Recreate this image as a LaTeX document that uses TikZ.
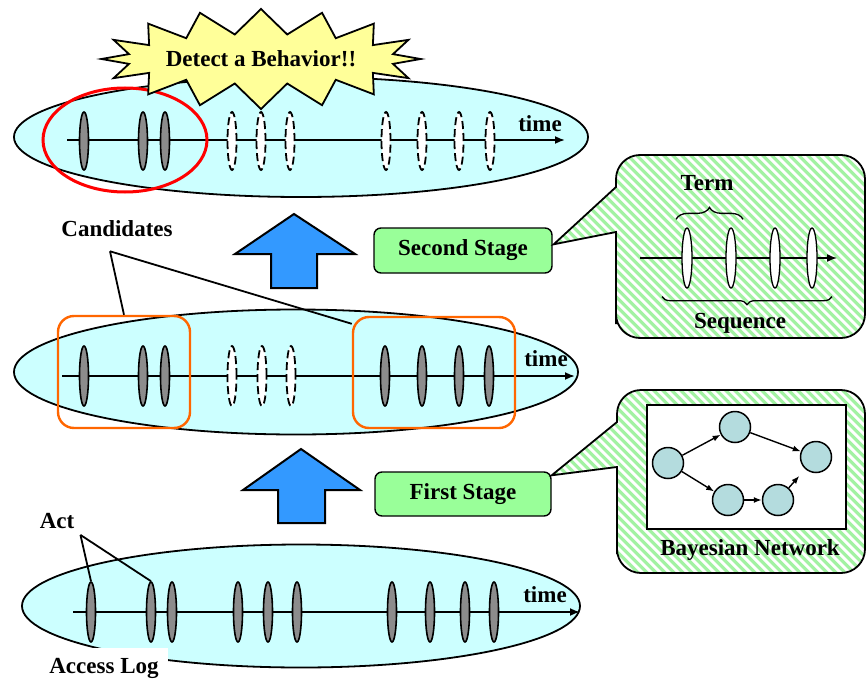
\documentclass[tikz,border=0pt]{standalone}
\usepackage{fontspec}
\setmainfont{Liberation Serif}
\usetikzlibrary{positioning, arrows.meta, shapes.geometric, shapes.symbols, decorations.pathreplacing}
\definecolor{logCyan}{HTML}{CCFFFF}
\definecolor{actGray}{HTML}{8C8C8C}
\definecolor{burstYellow}{HTML}{FFFF99}
\definecolor{hitRed}{HTML}{FF0000}
\definecolor{candOrange}{HTML}{FF6600}
\definecolor{upBlue}{HTML}{3399FF}
\definecolor{stageGreen}{HTML}{99FF99}
\definecolor{stripeGreen}{HTML}{A2F2A2}
\definecolor{bnTeal}{HTML}{B4DCDE}
\tikzset{
  lbl/.style={font=\fontsize{23}{27}\selectfont\bfseries, inner sep=2pt},
  logell/.style={ellipse, draw, line width=1.8pt, fill=logCyan, inner sep=0pt},
  act/.style={ellipse, draw, line width=1.6pt, fill=actGray, minimum width=9pt, minimum height=60pt, inner sep=0pt},
  ghost/.style={act, fill=white, line width=1.8pt, dash pattern=on 8pt off 4pt},
  termell/.style={act, fill=white, line width=1.3pt, minimum width=10pt},
  timeaxis/.style={line width=1.8pt, -{Latex[length=10pt, width=8pt]}},
  candbox/.style={draw=candOrange, line width=2.4pt, rounded corners=16pt, inner sep=0pt},
  pointer/.style={line width=1.8pt},
  uparrow/.style={draw, line width=2pt, fill=upBlue},
  stagebox/.style={lbl, draw, line width=1.4pt, fill=stageGreen, rounded corners=7pt, minimum height=45pt},
  balloon/.style={draw, line width=1.8pt, fill=white, path picture={
    \foreach \k in {-370,-361,...,200}
      \draw[stripeGreen, line width=3.2pt] ([xshift=\k pt]path picture bounding box.north) -- ++(300,300);}},
  bnode/.style={circle, draw, line width=1.5pt, fill=bnTeal, minimum size=31pt, inner sep=0pt},
  bnarrow/.style={line width=1.4pt, -{Latex[length=8pt, width=6pt]}}
}
\begin{document}
\begin{tikzpicture}[x=1pt, y=-1pt]
  \fill[white] (0,0) rectangle (866,682);
  \useasboundingbox (0,0) rectangle (866,682);

  % access log
  \node[logell, minimum width=558pt, minimum height=123pt] (accesslog) at (301,606) {};
  \draw[timeaxis] (73,612) -- (580,612);
  \node[lbl] at (545,595) {time};
  \foreach \x [count=\i] in {91,151,172,238,268,297,392,430,465,494}
    \node[act] (b\i) at (\x,612) {};
  \node[lbl, fill=white, minimum width=128pt, minimum height=40pt, anchor=north] (logname) at (104,648) {Access Log};
  \node[lbl] (act) at (57,521) {Act};
  \coordinate (actfork) at ([shift={(4,4)}]act.south east);
  \draw[pointer] (actfork) -- (b1.north);
  \draw[pointer] (actfork) -- (b2.north);

  % first stage result
  \node[logell, minimum width=564pt, minimum height=125pt] (stageone) at (296,372) {};
  \draw[timeaxis] (62,376) -- (575,376);
  \node[lbl] at (546,359) {time};
  \foreach \x [count=\i] in {84,143,165,385,422,459,489}
    \node[act] (m\i) at (\x,376) {};
  \foreach \x in {232,262,291}
    \node[ghost] at (\x,376) {};
  \node[candbox, minimum width=132pt, minimum height=112pt] (candL) at (124,372) {};
  \node[candbox, minimum width=162pt, minimum height=111pt] (candR) at (434,372.5) {};
  \node[lbl] (cand) at (117,229) {Candidates};
  \coordinate (candfork) at ([shift={(-7,12)}]cand.south);
  \draw[pointer] (candfork) -- (candL.north);
  \draw[pointer] (candfork) -- ([shift={(0,8)}]candR.north west);

  % second stage result
  \node[logell, minimum width=574pt, minimum height=120pt] (stagetwo) at (301,137) {};
  \draw[timeaxis] (67,140) -- (565,140);
  \node[lbl] at (540,124) {time};
  \foreach \x in {84,143,165}
    \node[act, minimum height=58pt] at (\x,141) {};
  \foreach \x in {232,261,290,386,422,459,490}
    \node[ghost, minimum height=58pt] at (\x,141) {};
  \node[ellipse, draw=hitRed, line width=3pt, minimum width=164pt, minimum height=104pt] (hit) at (125,140) {};
  \node[lbl, starburst, draw, line width=1.8pt, fill=burstYellow, minimum width=298pt, minimum height=100pt,
        starburst points=16, starburst point height=25pt, random starburst=0, inner sep=0pt] (detect) at (261,59) {Detect a Behavior!!};

  % stages
  \draw[uparrow] (294,214) -- (355,254) -- (317,254) -- (317,288) -- (271,288) -- (271,254) -- (235,254) -- cycle;
  \draw[uparrow] (301,449) -- (360,490) -- (325,490) -- (325,523) -- (278,523) -- (278,490) -- (243,490) -- cycle;
  \node[stagebox, minimum width=178pt] (stwo) at (463,250.5) {Second Stage};
  \node[stagebox, minimum width=176pt, minimum height=44pt] (sone) at (463,494) {First Stage};

  % second stage balloon
  \coordinate (tiptwo) at ([shift={(1,17)}]stwo.north east);
  \draw[balloon] (616,187) -- (616,182) [rounded corners=24pt] -- (616,155) -- (865,155) -- (865,338) -- (616,338) -- (616,300)
    [sharp corners] -- (616,232) -- (tiptwo) -- cycle;
  \draw[timeaxis, line width=1.5pt] (640,258) -- (837,258);
  \foreach \x [count=\i] in {687,731,775,812}
    \node[termell] (t\i) at (\x,258) {};
  \draw[line width=1.3pt, decorate, decoration={brace, amplitude=12pt}] ([shift={(-11,-8)}]t1.north) -- ([shift={(12,-8)}]t2.north);
  \node[lbl] (term) at (707,183) {Term};
  \draw[line width=1.3pt, decorate, decoration={brace, amplitude=8pt}] ([shift={(20,8)}]t4.south) -- ([shift={(-25,8)}]t1.south);
  \node[lbl] (seq) at (740,323) {Sequence};

  % first stage balloon
  \coordinate (tipone) at ([shift={(0,4)}]sone.north east);
  \draw[balloon] (617,422) -- (617,417) [rounded corners=24pt] -- (617,390) -- (865,390) -- (865,573) -- (617,573) -- (617,530)
    [sharp corners] -- (617,467) -- (tipone) -- cycle;
  \node[draw, fill=white, line width=1.5pt, minimum width=199pt, minimum height=124pt, inner sep=0pt] (bnframe) at (746.5,467) {};
  \node[bnode] (bnA) at (668,463) {};
  \node[bnode] (bnB) at (735,427) {};
  \node[bnode] (bnC) at (816,457) {};
  \node[bnode] (bnD) at (728,500) {};
  \node[bnode] (bnE) at (778,500) {};
  \draw[bnarrow] (bnA) -- (bnB);
  \draw[bnarrow] (bnB) -- (bnC);
  \draw[bnarrow] (bnA) -- (bnD);
  \draw[bnarrow] (bnD) -- (bnE);
  \draw[bnarrow, shorten >=9pt] (bnE) -- (bnC);
  \node[lbl] (bnname) at (750,550) {Bayesian Network};
\end{tikzpicture}
\end{document}
